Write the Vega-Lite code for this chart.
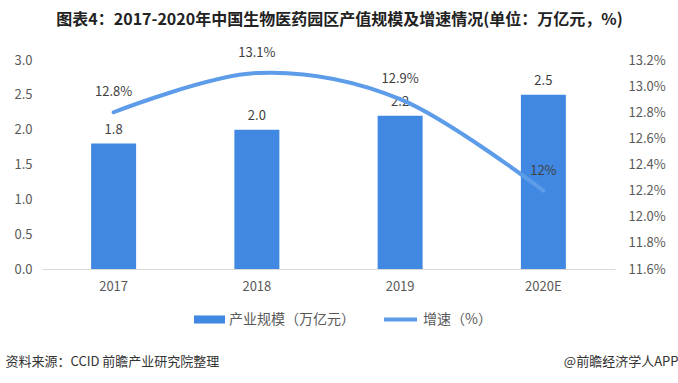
{
  "$schema": "https://vega.github.io/schema/vega-lite/v6.json",
  "width": 573,
  "height": 209,
  "autosize": {"type": "none"},
  "padding": {"left": 42, "top": 60, "right": 63, "bottom": 114},
  "background": "white",
  "title": {
    "text": "图表4：2017-2020年中国生物医药园区产值规模及增速情况(单位：万亿元，%)",
    "font": "Noto Sans CJK SC",
    "fontSize": 16,
    "fontWeight": "bold",
    "color": "#222222",
    "anchor": "middle",
    "dx": 11,
    "offset": 19
  },
  "data": {
    "values": [
      {"year": "2017", "scale": 1.8, "growth": 12.8, "glabel": "12.8%"},
      {"year": "2018", "scale": 2.0, "growth": 13.1, "glabel": "13.1%"},
      {"year": "2019", "scale": 2.2, "growth": 12.9, "glabel": "12.9%"},
      {"year": "2020E", "scale": 2.5, "growth": 12.2, "glabel": "12%"}
    ]
  },
  "encoding": {
    "x": {
      "field": "year",
      "type": "nominal",
      "sort": null,
      "scale": {"paddingInner": 0.686, "paddingOuter": 0.343},
      "axis": {
        "labelAngle": 0,
        "ticks": false,
        "domainColor": "#d9d9d9",
        "labelPadding": 11,
        "labelFontSize": 13,
        "labelColor": "#595959",
        "labelFont": "Noto Sans CJK SC",
        "title": "资料来源：CCID 前瞻产业研究院整理",
        "titleFont": "Noto Sans CJK SC",
        "titleFontSize": 13,
        "titleFontWeight": "normal",
        "titleColor": "#333333",
        "titleAlign": "left",
        "titleBaseline": "middle",
        "titleAnchor": "start",
        "titleX": -37,
        "titleY": 92
      }
    }
  },
  "layer": [
    {
      "encoding": {
        "y": {
          "field": "scale",
          "type": "quantitative",
          "scale": {"domain": [0, 3]},
          "axis": {
            "values": [0, 0.5, 1, 1.5, 2, 2.5, 3],
            "format": ".1f",
            "domain": false,
            "ticks": false,
            "grid": false,
            "labelPadding": 10,
            "labelFontSize": 13,
            "labelColor": "#595959",
            "labelFont": "Noto Sans CJK SC",
            "title": null
          }
        }
      },
      "layer": [
        {
          "mark": {"type": "bar", "color": "#4088E2"},
          "encoding": {
            "fill": {
              "datum": "产业规模（万亿元）",
              "scale": {"range": ["#4088E2"]},
              "legend": {
                "orient": "none",
                "legendX": 152,
                "legendY": 244,
                "title": null,
                "symbolType": "M-1,-0.26L1,-0.26L1,0.26L-1,0.26Z",
                "symbolSize": 961,
                "symbolStrokeWidth": 0,
                "labelFontSize": 14,
                "labelColor": "#595959",
                "labelFont": "Noto Sans CJK SC",
                "labelOffset": 4
              }
            }
          }
        },
        {
          "mark": {"type": "text", "baseline": "middle", "dy": -14, "fontSize": 13, "color": "#404040", "font": "Noto Sans CJK SC"},
          "encoding": {
            "text": {"field": "scale", "type": "quantitative", "format": ".1f"}
          }
        }
      ]
    },
    {
      "encoding": {
        "y": {
          "field": "growth",
          "type": "quantitative",
          "scale": {"domain": [11.6, 13.2], "zero": false},
          "axis": {
            "orient": "right",
            "values": [11.6, 11.8, 12.0, 12.2, 12.4, 12.6, 12.8, 13.0, 13.2],
            "labelExpr": "format(datum.value, '.1f') + '%'",
            "domain": false,
            "ticks": false,
            "grid": false,
            "labelPadding": 13,
            "labelFontSize": 13,
            "labelColor": "#595959",
            "labelFont": "Noto Sans CJK SC",
            "title": "@前瞻经济学人APP",
            "titleAngle": 0,
            "titleFont": "Noto Sans CJK SC",
            "titleFontSize": 13,
            "titleFontWeight": "normal",
            "titleColor": "#333333",
            "titleAlign": "right",
            "titleBaseline": "middle",
            "titleX": 63,
            "titleY": 301
          }
        }
      },
      "layer": [
        {
          "mark": {"type": "line", "interpolate": "cardinal", "strokeWidth": 4, "strokeCap": "round", "color": "#5C9CE8"},
          "encoding": {
            "stroke": {
              "datum": "增速（%）",
              "scale": {"range": ["#5C9CE8"]},
              "legend": {
                "orient": "none",
                "legendX": 340,
                "legendY": 241,
                "title": null,
                "symbolType": "stroke",
                "symbolSize": 1089,
                "symbolStrokeWidth": 4,
                "labelFontSize": 14,
                "labelColor": "#595959",
                "labelFont": "Noto Sans CJK SC",
                "labelOffset": 4
              }
            }
          }
        },
        {
          "mark": {"type": "text", "baseline": "middle", "dy": -20, "fontSize": 13, "color": "#404040", "font": "Noto Sans CJK SC"},
          "encoding": {
            "text": {"field": "glabel", "type": "nominal"}
          }
        }
      ]
    }
  ],
  "resolve": {"scale": {"y": "independent"}},
  "config": {"view": {"stroke": null}}
}
